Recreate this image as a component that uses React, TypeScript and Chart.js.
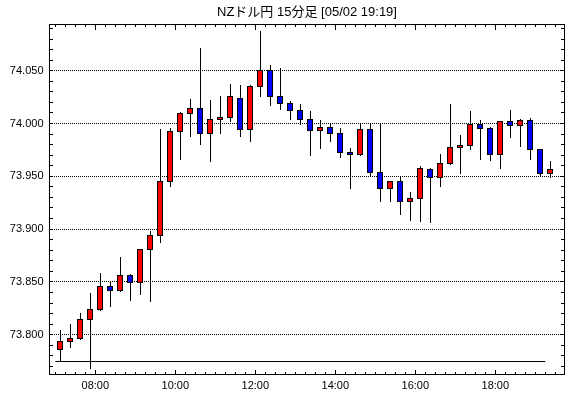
import React, { useEffect, useRef } from 'react';
import { Chart, registerables } from 'chart.js';

Chart.register(...registerables);

const TITLE = 'NZドル円 15分足 [05/02 19:19]';

// 15-minute bars (period start times)
const times = [
  '07:00', '07:15', '07:30', '07:45', '08:00', '08:15', '08:30', '08:45', '09:00', '09:15',
  '09:30', '09:45', '10:00', '10:15', '10:30', '10:45', '11:00', '11:15', '11:30', '11:45',
  '12:00', '12:15', '12:30', '12:45', '13:00', '13:15', '13:30', '13:45', '14:00', '14:15',
  '14:30', '14:45', '15:00', '15:15', '15:30', '15:45', '16:00', '16:15', '16:30', '16:45',
  '17:00', '17:15', '17:30', '17:45', '18:00', '18:15', '18:30', '18:45', '19:00', '19:15',
];

const opens = [
  73.786, 73.794, 73.796, 73.814, 73.824, 73.846, 73.842, 73.856, 73.849, 73.881,
  73.894, 73.945, 73.992, 74.009, 74.014, 73.991, 74.004, 74.006, 74.024, 73.994,
  74.035, 74.050, 74.026, 74.019, 74.012, 74.004, 73.993, 73.996, 73.991, 73.973,
  73.971, 73.994, 73.954, 73.938, 73.945, 73.926, 73.929, 73.956, 73.949, 73.962,
  73.977, 73.979, 73.999, 73.995, 73.971, 74.002, 73.998, 74.003, 73.975, 73.953,
];

const highs = [
  73.804, 73.810, 73.820, 73.839, 73.858, 73.849, 73.873, 73.857, 73.881, 73.898,
  73.994, 73.995, 74.010, 74.023, 74.071, 74.022, 74.026, 74.037, 74.036, 74.036,
  74.087, 74.055, 74.052, 74.021, 74.018, 74.011, 74.003, 74.000, 73.995, 73.976,
  73.999, 73.999, 74.000, 73.945, 73.950, 73.935, 73.959, 73.957, 73.971, 74.018,
  73.989, 74.011, 74.003, 73.996, 74.002, 74.012, 74.004, 74.005, 73.975, 73.964,
];

const lows = [
  73.775, 73.788, 73.795, 73.768, 73.823, 73.827, 73.841, 73.832, 73.838, 73.831,
  73.887, 73.940, 73.966, 73.988, 73.980, 73.964, 73.991, 74.002, 73.988, 73.983,
  74.026, 74.017, 74.013, 74.004, 73.999, 73.970, 73.976, 73.983, 73.968, 73.938,
  73.970, 73.950, 73.926, 73.926, 73.914, 73.908, 73.907, 73.906, 73.940, 73.961,
  73.953, 73.975, 73.966, 73.965, 73.957, 73.987, 73.978, 73.966, 73.950, 73.949,
];

const closes = [
  73.794, 73.796, 73.814, 73.824, 73.846, 73.842, 73.856, 73.849, 73.881, 73.894,
  73.945, 73.992, 74.009, 74.014, 73.991, 74.004, 74.006, 74.026, 73.994, 74.035,
  74.050, 74.026, 74.019, 74.012, 74.004, 73.993, 73.996, 73.991, 73.973, 73.971,
  73.994, 73.954, 73.938, 73.945, 73.926, 73.929, 73.957, 73.949, 73.962, 73.977,
  73.979, 73.999, 73.995, 73.971, 74.002, 73.998, 74.003, 73.975, 73.953, 73.956,
];

const baseLine = 73.7746;

const yTickValues = [73.8, 73.85, 73.9, 73.95, 74.0, 74.05];
const xTickLabels = ['08:00', '10:00', '12:00', '14:00', '16:00', '18:00'];

const X_MIN = 411.25;
const X_MAX = 1183.75;
const Y_MIN = 73.76231;
const Y_MAX = 74.09375;
const BAR_MINUTES = 15;
const MINOR_Y_STEP = 0.01;

const UP = '#ff0000';
const DOWN = '#0000ff';
const FONT = '"Liberation Sans", Arial, "Noto Sans CJK JP", sans-serif';
const TITLE_FONT = '"Liberation Sans", "Noto Sans CJK JP", sans-serif';

const toMin = (s: string) => {
  const [h, m] = s.split(':').map(Number);
  return h * 60 + m;
};

const bgPlugin = {
  id: 'bg',
  beforeDraw(chart: any) {
    const { ctx, width, height } = chart;
    ctx.save();
    ctx.fillStyle = '#ffffff';
    ctx.fillRect(0, 0, width, height);
    ctx.restore();
  },
};

const candlePlugin = {
  id: 'candles',
  afterDatasetsDraw(chart: any) {
    const { ctx, chartArea: ca } = chart;
    const x = chart.scales.x;
    const y = chart.scales.y;
    ctx.save();
    ctx.beginPath();
    ctx.rect(ca.left, ca.top, ca.right - ca.left, ca.bottom - ca.top);
    ctx.clip();
    for (let i = 0; i < times.length; i++) {
      const cx = Math.round(x.getPixelForValue(toMin(times[i]) + BAR_MINUTES / 2));
      const yH = Math.floor(y.getPixelForValue(highs[i]));
      const yL = Math.floor(y.getPixelForValue(lows[i]));
      const yT = Math.floor(y.getPixelForValue(Math.max(opens[i], closes[i])));
      let yB = Math.floor(y.getPixelForValue(Math.min(opens[i], closes[i])));
      if (yB - yT < 2) yB = yT + 2;
      ctx.fillStyle = '#000';
      ctx.fillRect(cx, yH, 1, yL - yH + 1);
      ctx.fillStyle = closes[i] >= opens[i] ? UP : DOWN;
      ctx.fillRect(cx - 3, yT, 6, yB - yT + 1);
      ctx.strokeStyle = '#000';
      ctx.lineWidth = 1;
      ctx.strokeRect(cx - 3 + 0.5, yT + 0.5, 5, yB - yT);
    }
    ctx.restore();
  },
};

const framePlugin = {
  id: 'frameTicks',
  afterDraw(chart: any) {
    const { ctx, chartArea: ca } = chart;
    const x = chart.scales.x;
    const y = chart.scales.y;
    const L = Math.floor(ca.left);
    const R = Math.floor(ca.right);
    const T = Math.floor(ca.top);
    const B = Math.floor(ca.bottom);
    ctx.save();
    ctx.strokeStyle = '#000';
    ctx.lineWidth = 1;
    ctx.strokeRect(L + 0.5, T + 0.5, R - L, B - T);
    ctx.fillStyle = '#000';
    const majors = xTickLabels.map(toMin);
    for (let t = toMin(times[0]); t <= X_MAX; t += BAR_MINUTES) {
      const px = Math.floor(x.getPixelForValue(t));
      const major = majors.includes(t);
      const lb = major ? 4 : 2;
      const lt = major ? 5 : 2;
      ctx.fillRect(px, B - lb, 1, lb);
      ctx.fillRect(px, T + 1, 1, lt);
    }
    const k0 = Math.ceil(Y_MIN / MINOR_Y_STEP);
    const k1 = Math.floor(Y_MAX / MINOR_Y_STEP);
    for (let k = k0; k <= k1; k++) {
      const py = Math.floor(y.getPixelForValue(k * MINOR_Y_STEP));
      ctx.fillRect(L + 1, py, 3, 1);
      ctx.fillRect(R - 3, py, 3, 1);
    }
    ctx.restore();
  },
};

export default function App() {
  const ref = useRef<HTMLCanvasElement | null>(null);

  useEffect(() => {
    if (!ref.current) return;
    const chart = new Chart(ref.current, {
      type: 'line',
      data: {
        datasets: [
          {
            label: 'base',
            data: [
              { x: toMin(times[0]), y: baseLine },
              { x: toMin(times[times.length - 1]), y: baseLine },
            ],
            borderColor: '#000',
            borderWidth: 1,
            pointRadius: 0,
            fill: false,
          },
        ],
      },
      options: {
        responsive: false,
        animation: false,
        devicePixelRatio: 1,
        events: [],
        layout: { padding: { left: 0, right: 5.5, top: 0, bottom: 0 } },
        plugins: {
          legend: { display: false },
          tooltip: { enabled: false },
          title: {
            display: true,
            text: TITLE,
            fullSize: false,
            color: '#000',
            font: { family: TITLE_FONT, size: 13, weight: 'normal' },
            padding: { top: 4.8, bottom: 4.1 },
          },
        },
        scales: {
          x: {
            type: 'linear',
            min: X_MIN,
            max: X_MAX,
            afterBuildTicks: (s: any) => {
              s.ticks = xTickLabels.map((l) => ({ value: toMin(l) }));
            },
            afterFit: (s: any) => {
              s.height = 23.5;
            },
            ticks: {
              autoSkip: false,
              maxRotation: 0,
              minRotation: 0,
              padding: 5,
              color: '#000',
              font: { family: FONT, size: 11 },
              callback: (_v: any, i: number) => xTickLabels[i],
            },
            grid: { display: false, drawTicks: false },
            border: { display: false },
          },
          y: {
            type: 'linear',
            position: 'left',
            min: Y_MIN,
            max: Y_MAX,
            afterBuildTicks: (s: any) => {
              s.ticks = yTickValues.map((v) => ({ value: v }));
            },
            afterFit: (s: any) => {
              s.width = 49.5;
            },
            ticks: {
              padding: 6,
              color: '#000',
              font: { family: FONT, size: 11 },
              callback: (v: any) => Number(v).toFixed(3),
            },
            grid: { color: '#000', lineWidth: 1, drawTicks: false },
            border: { display: false, dash: [1, 1] },
          },
        },
      },
      plugins: [bgPlugin, candlePlugin, framePlugin],
    });
    return () => chart.destroy();
  }, []);

  return (
    <div style={{ position: 'absolute', left: 0, top: 0, width: 570, height: 398, background: '#fff' }}>
      <canvas ref={ref} width={570} height={398} style={{ display: 'block' }} />
    </div>
  );
}
